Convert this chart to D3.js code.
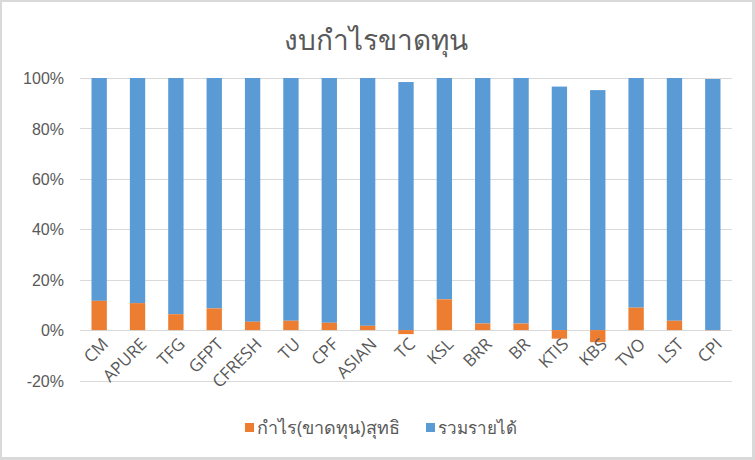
<!DOCTYPE html>
<html><head><meta charset="utf-8">
<script src="https://cdn.jsdelivr.net/npm/d3@7/dist/d3.min.js"></script>
<style>
html,body{margin:0;padding:0;background:#d9d9d9;}
svg{display:block;font-family:"Segoe UI","Open Sans","Noto Sans",sans-serif;}
</style></head><body>
<svg id="chart" width="755" height="460"></svg>
<script>
const categories = ["CM","APURE","TFG","GFPT","CFRESH","TU","CPF","ASIAN","TC","KSL","BRR","BR","KTIS","KBS","TVO","LST","CPI"];
// share of net profit (loss), percent
const profitShare = [11.6,10.7,6.3,8.6,3.3,3.7,2.9,1.7,-1.6,12.2,2.6,2.6,-3.4,-4.8,8.9,3.7,-0.1];
// share of total revenue, percent
const revenueShare = [88.4,89.3,93.7,91.4,96.7,96.3,97.1,98.3,98.4,87.8,97.4,97.4,96.6,95.2,91.1,96.3,99.6];
const yTicks = [-20,0,20,40,60,80,100];
const seriesNames = ["กำไร(ขาดทุน)สุทธิ","รวมรายได้"];
const colors = ["#ED7D31","#5B9BD5"];
const title = "งบกำไรขาดทุน";

const svg = d3.select("#chart");
svg.append("rect").attr("x",2).attr("y",2).attr("width",750).attr("height",455).attr("fill","#fff");

const x = d3.scaleBand().domain(categories).range([80,732]).paddingInner(0.6).paddingOuter(0.3);
const y = d3.scaleLinear().domain([-20,100]).range([380.5,78]);

// gridlines
svg.append("g").selectAll("line").data(yTicks).join("line")
  .attr("x1",80).attr("x2",732)
  .attr("y1",d=>Math.round(y(d))+0.5).attr("y2",d=>Math.round(y(d))+0.5)
  .attr("stroke","#d9d9d9").attr("stroke-width",1);

// y axis labels
const yAxis = d3.axisLeft(y).tickValues(yTicks).tickFormat(d=>d+"%").tickSize(0).tickPadding(0);
const yg = svg.append("g").attr("transform","translate(64,0)").call(yAxis);
yg.select(".domain").remove();
yg.selectAll("text").attr("fill","#595959").style("font-size","16px").attr("dy","0.35em");

// bars
const rows = categories.map((c,i)=>({c,p:profitShare[i],r:revenueShare[i]}));
const bw = x.bandwidth();
svg.append("g").selectAll("rect").data(rows).join("rect")
  .attr("x",d=>x(d.c)).attr("width",bw)
  .attr("y",d=>y(Math.max(d.p,0)+d.r))
  .attr("height",d=>y(Math.max(d.p,0))-y(Math.max(d.p,0)+d.r))
  .attr("fill",colors[1]);
svg.append("g").selectAll("rect").data(rows).join("rect")
  .attr("x",d=>x(d.c)).attr("width",bw)
  .attr("y",d=>y(Math.max(d.p,0)))
  .attr("height",d=>Math.abs(y(d.p)-y(0)))
  .attr("fill",colors[0]);

// x labels
svg.append("g").selectAll("text").data(categories).join("text")
  .attr("transform",d=>`translate(${x(d)+bw/2+6},${y(0)+11}) rotate(-45)`)
  .attr("text-anchor","end").attr("dy","0.35em")
  .attr("fill","#595959").style("font-size","17px")
  .text(d=>d);

// title
svg.append("text").attr("x",376).attr("y",50).attr("text-anchor","middle")
  .attr("fill","#595959").style("font-size","28px").text(title);

// legend
const leg = [{name:seriesNames[0],color:colors[0],x:245,fs:18},{name:seriesNames[1],color:colors[1],x:426,fs:17}];
const lg = svg.append("g").selectAll("g").data(leg).join("g").attr("transform",d=>`translate(${d.x},0)`);
lg.append("rect").attr("x",0).attr("y",423).attr("width",9).attr("height",9).attr("fill",d=>d.color);
lg.append("text").attr("x",12).attr("y",428).attr("dy","0.35em").attr("fill","#595959").style("font-size",d=>d.fs+"px").text(d=>d.name);
</script>
</body></html>
